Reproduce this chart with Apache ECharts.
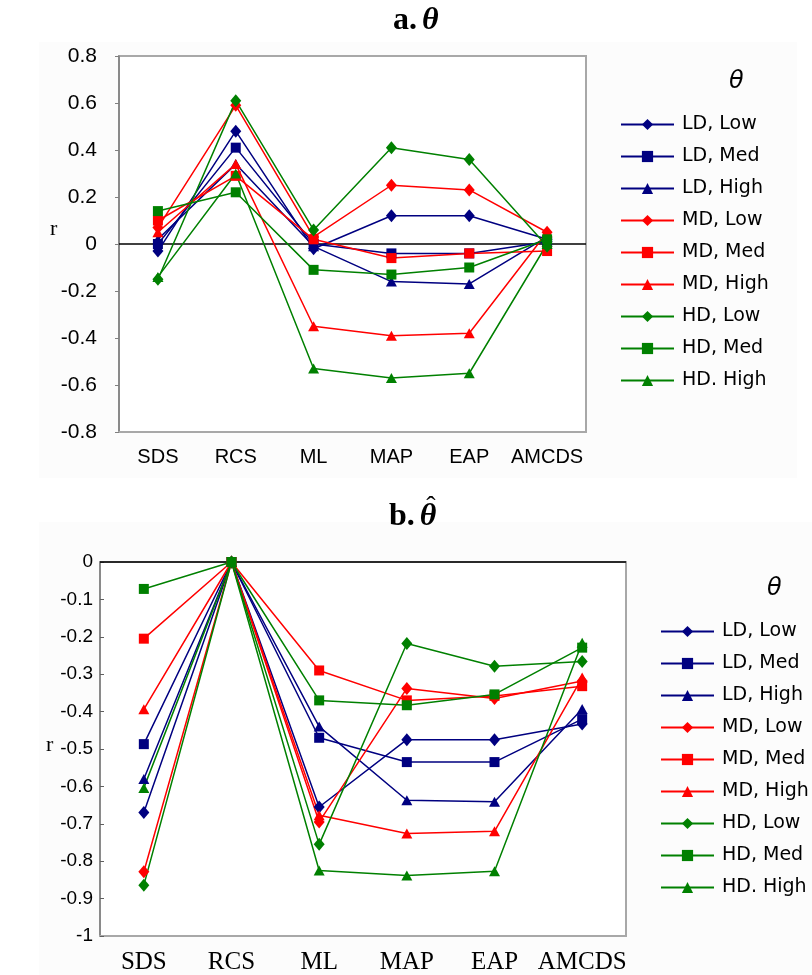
<!DOCTYPE html>
<html>
<head>
<meta charset="utf-8">
<script src="https://cdn.jsdelivr.net/npm/echarts@6/dist/echarts.min.js"></script>
<style>
  html, body { margin: 0; padding: 0; background: #fff; }
  #chart { width: 812px; height: 975px; }
</style>
</head>
<body>
<div id="chart"></div>
<script>
// Estimation methods on the category axis
const categories = ['SDS', 'RCS', 'ML', 'MAP', 'EAP', 'AMCDS'];

// Condition labels (density, level)
const seriesNames = ['LD, Low', 'LD, Med', 'LD, High', 'MD, Low', 'MD, Med', 'MD, High', 'HD, Low', 'HD, Med', 'HD. High'];

// Panel a: correlations r with theta
const thetaLDLow   = [-0.03, 0.48, -0.02,  0.12,  0.12,  0.02];
const thetaLDMed   = [ 0.00, 0.41,  0.00, -0.04, -0.04,  0.01];
const thetaLDHigh  = [ 0.02, 0.34, -0.01, -0.16, -0.17,  0.03];
const thetaMDLow   = [ 0.07, 0.59,  0.03,  0.25,  0.23,  0.05];
const thetaMDMed   = [ 0.10, 0.29,  0.02, -0.06, -0.04, -0.03];
const thetaMDHigh  = [ 0.05, 0.34, -0.35, -0.39, -0.38,  0.05];
const thetaHDLow   = [-0.15, 0.61,  0.06,  0.41,  0.36, -0.01];
const thetaHDMed   = [ 0.14, 0.22, -0.11, -0.13, -0.10,  0.02];
const thetaHDHigh  = [-0.14, 0.30, -0.53, -0.57, -0.55,  0.00];

// Panel b: correlations r with theta-hat
const thetaHatLDLow  = [-0.670, 0, -0.655, -0.475, -0.475, -0.433];
const thetaHatLDMed  = [-0.487, 0, -0.470, -0.535, -0.535, -0.420];
const thetaHatLDHigh = [-0.580, 0, -0.440, -0.637, -0.641, -0.393];
const thetaHatMDLow  = [-0.828, 0, -0.695, -0.338, -0.365, -0.318];
const thetaHatMDMed  = [-0.205, 0, -0.290, -0.370, -0.358, -0.332];
const thetaHatMDHigh = [-0.394, 0, -0.677, -0.726, -0.720, -0.309];
const thetaHatHDLow  = [-0.864, 0, -0.755, -0.218, -0.279, -0.266];
const thetaHatHDMed  = [-0.072, 0, -0.370, -0.383, -0.354, -0.229];
const thetaHatHDHigh = [-0.604, 0, -0.825, -0.838, -0.827, -0.216];

// Axis ranges / tick steps
const yRangeA = { min: -0.8, max: 0.8, interval: 0.2 };
const yRangeB = { min: -1, max: 0, interval: 0.1 };

const panelA = [thetaLDLow, thetaLDMed, thetaLDHigh, thetaMDLow, thetaMDMed, thetaMDHigh, thetaHDLow, thetaHDMed, thetaHDHigh];
const panelB = [thetaHatLDLow, thetaHatLDMed, thetaHatLDHigh, thetaHatMDLow, thetaHatMDMed, thetaHatMDHigh, thetaHatHDLow, thetaHatHDMed, thetaHatHDHigh];

const NAVY = '#000080', RED = '#ff0000', GREEN = '#008000';
const lineColors = [NAVY, NAVY, NAVY, RED, RED, RED, GREEN, GREEN, GREEN];
const symbols = ['diamond', 'rect', 'triangle'];
const symbolSizes = { diamond: [11, 13], rect: [10, 10], triangle: [11, 10] };

function buildSeries(values, axisIndex) {
  return values.map(function (data, i) {
    const sym = symbols[i % 3];
    const s = {
      name: seriesNames[i],
      type: 'line',
      xAxisIndex: axisIndex,
      yAxisIndex: axisIndex,
      data: data,
      symbol: sym,
      symbolSize: symbolSizes[sym],
      color: lineColors[i],
      lineStyle: { width: 1.5, color: lineColors[i] },
      itemStyle: { color: lineColors[i] },
      emphasis: { disabled: true },
      z: 3
    };
    if (i === 0) {
      // horizontal reference line at r = 0
      s.markLine = {
        silent: true,
        symbol: 'none',
        label: { show: false },
        lineStyle: { color: '#000', width: 1.5, type: 'solid' },
        data: [{ yAxis: 0 }],
        z: 1
      };
    }
    return s;
  });
}

const chart = echarts.init(document.getElementById('chart'));

const sans = 'Liberation Sans';
const serif = 'Liberation Serif';

const titleRich = {
  a: { fontFamily: serif, fontWeight: 'bold', fontSize: 32, color: '#000' },
  t: { fontFamily: serif, fontWeight: 'bold', fontStyle: 'italic', fontSize: 32, color: '#000' },
  u: { fontFamily: serif, fontStyle: 'italic', fontSize: 32, color: '#000' }
};

chart.setOption({
  animation: false,
  backgroundColor: '#fff',
  title: [
    { text: '{a|a.} {t|θ}', left: 388, top: 0, textStyle: { rich: titleRich } },
    { text: '{a|b.} {u|θ}', left: 384, top: 496, textStyle: { rich: titleRich } }
  ],
  graphic: [
    { type: 'rect', z: -10, shape: { x: 39, y: 42, width: 758, height: 436 }, style: { fill: '#fcfcfc' } },
    { type: 'rect', z: -10, shape: { x: 39, y: 522, width: 773, height: 453 }, style: { fill: '#fcfcfc' } },
    // circumflex over the theta in the panel b heading
    { type: 'text', x: 431, y: 494, style: { text: 'ˆ', font: '28px ' + serif, fill: '#000', align: 'center', verticalAlign: 'top' } },
    { type: 'text', left: 50, top: 218, style: { text: 'r', font: '22px ' + serif, fill: '#000' } },
    { type: 'text', left: 46, top: 734, style: { text: 'r', font: '22px ' + serif, fill: '#000' } },
    { type: 'text', left: 729, top: 70, style: { text: 'θ', font: 'italic 24px DejaVu Sans', fill: '#000' } },
    { type: 'text', left: 767, top: 577, style: { text: 'θ', font: 'italic 24px DejaVu Sans', fill: '#000' } }
  ],
  legend: [
    {
      orient: 'vertical', left: 615, top: 110,
      itemWidth: 53, itemHeight: 14, itemGap: 13,
      selectedMode: false,
      data: seriesNames,
      textStyle: { fontFamily: 'DejaVu Sans', fontSize: 19, color: '#000', padding: [0, 0, 0, 3] }
    },
    {
      orient: 'vertical', left: 655, top: 617,
      itemWidth: 53, itemHeight: 14, itemGap: 13,
      selectedMode: false,
      data: seriesNames,
      textStyle: { fontFamily: 'DejaVu Sans', fontSize: 19, color: '#000', padding: [0, 0, 0, 3] }
    }
  ],
  grid: [
    { left: 119, top: 56, width: 467, height: 376, show: true, backgroundColor: '#fff', borderColor: '#a8a8a8', borderWidth: 2 },
    { left: 100, top: 562, width: 526, height: 376, show: true, backgroundColor: '#fff', borderColor: '#a8a8a8', borderWidth: 2 }
  ],
  xAxis: [
    {
      gridIndex: 0, type: 'category', data: categories, boundaryGap: true,
      axisLine: { onZero: false, lineStyle: { color: '#a8a8a8', width: 2 } },
      axisTick: { show: false },
      axisLabel: { interval: 0, margin: 15, fontFamily: sans, fontSize: 20, color: '#000' },
      splitLine: { show: false }
    },
    {
      gridIndex: 1, type: 'category', data: categories, boundaryGap: true,
      axisLine: { onZero: false, lineStyle: { color: '#a8a8a8', width: 2 } },
      axisTick: { show: false },
      axisLabel: { interval: 0, margin: 14, fontFamily: serif, fontSize: 25, color: '#000' },
      splitLine: { show: false }
    }
  ],
  yAxis: [
    {
      gridIndex: 0, type: 'value', min: yRangeA.min, max: yRangeA.max, interval: yRangeA.interval,
      axisLine: { show: true, lineStyle: { color: '#808080', width: 1.5 } },
      axisTick: { show: true, length: 4, lineStyle: { color: '#808080' } },
      axisLabel: { margin: 22, fontFamily: sans, fontSize: 21, color: '#000' },
      splitLine: { show: false }
    },
    {
      gridIndex: 1, type: 'value', min: yRangeB.min, max: yRangeB.max, interval: yRangeB.interval,
      axisLine: { show: true, lineStyle: { color: '#808080', width: 1.5 } },
      axisTick: { show: true, length: 4, inside: true, lineStyle: { color: '#606060' } },
      axisLabel: { margin: 7, fontFamily: sans, fontSize: 19, color: '#000' },
      splitLine: { show: false }
    }
  ],
  series: buildSeries(panelA, 0).concat(buildSeries(panelB, 1))
});
</script>
</body>
</html>
